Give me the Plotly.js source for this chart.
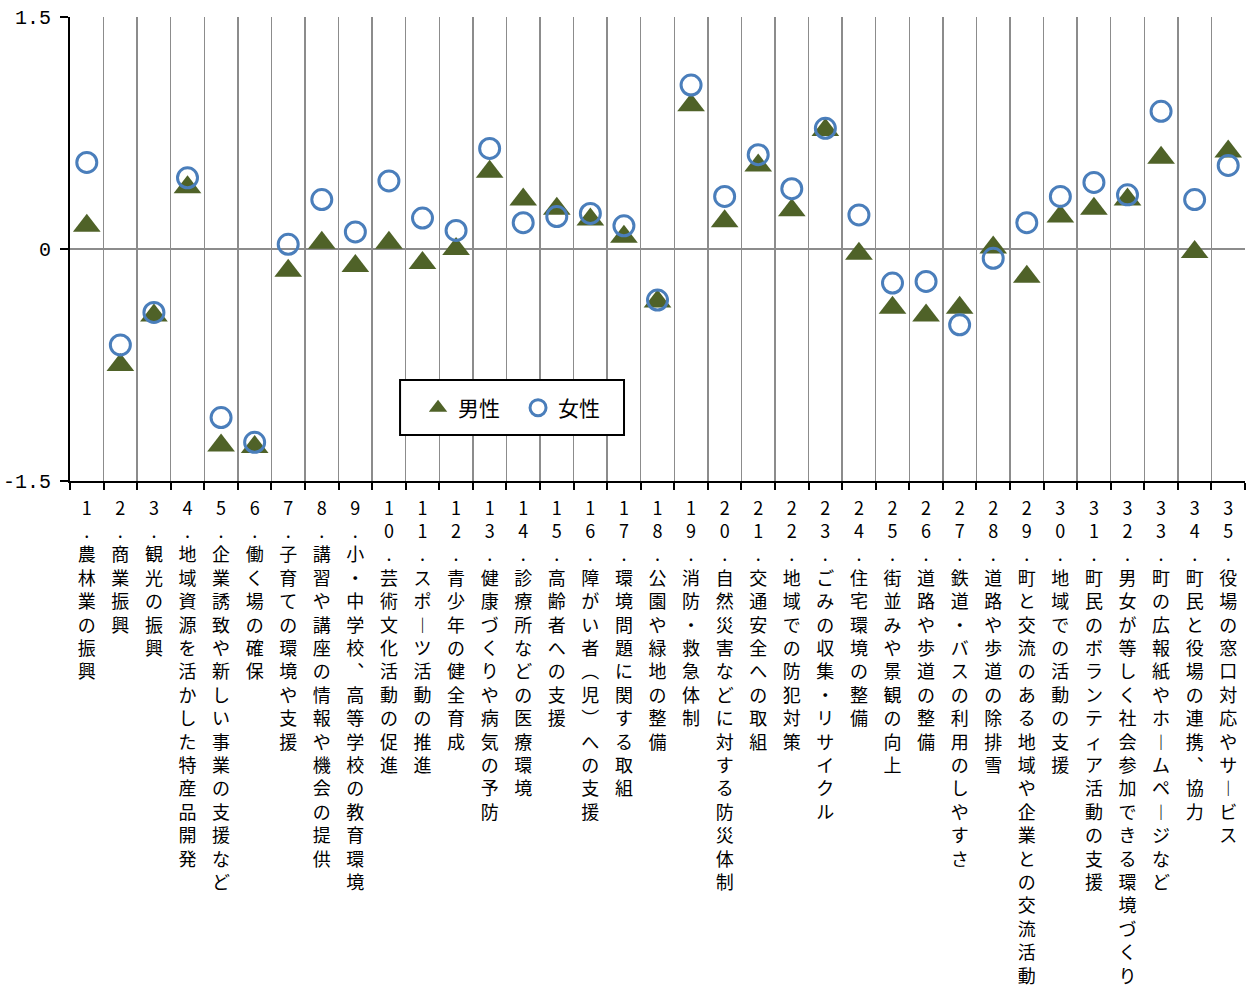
<!DOCTYPE html>
<html>
<head>
<meta charset="utf-8">
<script src="https://cdn.plot.ly/plotly-3.0.1.min.js"></script>
<style>html,body{margin:0;padding:0;background:#fff;}</style>
</head>
<body>
<div id="chart" style="width:1250px;height:990px;"></div>
<script>
var nums = ["1","2","3","4","5","6","7","8","9","10","11","12","13","14","15","16","17","18","19","20","21","22","23","24","25","26","27","28","29","30","31","32","33","34","35"];
var names = [
  "農林業の振興",
  "商業振興",
  "観光の振興",
  "地域資源を活かした特産品開発",
  "企業誘致や新しい事業の支援など",
  "働く場の確保",
  "子育ての環境や支援",
  "講習や講座の情報や機会の提供",
  "小・中学校︑高等学校の教育環境",
  "芸術文化活動の促進",
  "スポ︱ツ活動の推進",
  "青少年の健全育成",
  "健康づくりや病気の予防",
  "診療所などの医療環境",
  "高齢者への支援",
  "障がい者︵児︶への支援",
  "環境問題に関する取組",
  "公園や緑地の整備",
  "消防・救急体制",
  "自然災害などに対する防災体制",
  "交通安全への取組",
  "地域での防犯対策",
  "ごみの収集・リサイクル",
  "住宅環境の整備",
  "街並みや景観の向上",
  "道路や歩道の整備",
  "鉄道・バスの利用のしやすさ",
  "道路や歩道の除排雪",
  "町と交流のある地域や企業との交流活動",
  "地域での活動の支援",
  "町民のボランティア活動の支援",
  "男女が等しく社会参加できる環境づくり",
  "町の広報紙やホ︱ムペ︱ジなど",
  "町民と役場の連携︑協力",
  "役場の窓口対応やサ︱ビス"
];
var male = [0.15, -0.75, -0.43, 0.40, -1.27, -1.28, -0.14, 0.04, -0.11, 0.04,
            -0.09, 0.00, 0.50, 0.32, 0.26, 0.19, 0.08, -0.34, 0.93, 0.18,
            0.54, 0.25, 0.77, -0.03, -0.38, -0.43, -0.38, 0.01, -0.18, 0.21,
            0.26, 0.32, 0.59, -0.02, 0.63];
var female = [0.56, -0.62, -0.41, 0.46, -1.09, -1.25, 0.03, 0.32, 0.11, 0.44,
              0.20, 0.12, 0.65, 0.17, 0.21, 0.23, 0.15, -0.33, 1.06, 0.34,
              0.61, 0.39, 0.78, 0.22, -0.22, -0.21, -0.49, -0.06, 0.17, 0.34,
              0.43, 0.35, 0.89, 0.32, 0.54];
var seriesNames = ["男性", "女性"];
var yTickVals = [-1.5, 0, 1.5];
var yTickText = ["-1.5", "0", "1.5"];

var cats = nums.map(function(n, i) {
  var parts = Array.from(n).concat(["."]).concat(Array.from(names[i]));
  return parts.join("<br>");
});

var font = '"Noto Sans CJK JP", "Noto Sans", sans-serif';

var traces = [
  {
    type: "scatter", mode: "markers", name: seriesNames[0],
    x: cats, y: male,
    marker: {symbol: "triangle-up", size: 24, color: "#4F6228", line: {width: 0}}
  },
  {
    type: "scatter", mode: "markers", name: seriesNames[1],
    x: cats, y: female,
    marker: {symbol: "circle-open", size: 20, color: "#4A7EBB", line: {width: 3, color: "#4A7EBB"}}
  }
];

var layout = {
  width: 1250, height: 990,
  margin: {l: 70, r: 5, t: 17, b: 509},
  paper_bgcolor: "#fff", plot_bgcolor: "#fff",
  font: {family: font, color: "#000"},
  showlegend: true,
  legend: {
    x: 0.2962, y: 0.1573, xanchor: "left", yanchor: "middle",
    orientation: "h", bgcolor: "rgba(0,0,0,0)", borderwidth: 0,
    entrywidth: 55,
    font: {size: 21, family: font, color: "#000"}
  },
  shapes: [{
    type: "rect", xref: "paper", yref: "paper",
    x0: 0.2809, x1: 0.4715, y0: 0.0991, y1: 0.2177,
    fillcolor: "#fff", line: {color: "#000", width: 2}, layer: "above"
  }],
  xaxis: {
    type: "category", tickson: "boundaries",
    showgrid: true, gridcolor: "#8c8c8c", gridwidth: 1.5,
    ticks: "outside", ticklen: 7, tickwidth: 2, tickcolor: "#000",
    showline: true, linecolor: "#000", linewidth: 2,
    tickangle: 0, tickfont: {size: 18, family: font, color: "#000"},
    ticklabelstandoff: 10,
    range: [-0.5, 34.5], fixedrange: true
  },
  yaxis: {
    range: [-1.5, 1.5], tickvals: yTickVals, ticktext: yTickText,
    showgrid: true, gridcolor: "#8c8c8c", gridwidth: 1.5, zeroline: false,
    ticks: "outside", ticklen: 8, tickwidth: 2, tickcolor: "#000",
    showline: true, linecolor: "#000", linewidth: 2,
    ticklabelstandoff: 5,
    tickfont: {size: 20, family: '"Liberation Mono", "DejaVu Sans Mono", monospace', color: "#000"}, fixedrange: true
  }
};

Plotly.newPlot("chart", traces, layout, {displayModeBar: false, staticPlot: true});
</script>
</body>
</html>
